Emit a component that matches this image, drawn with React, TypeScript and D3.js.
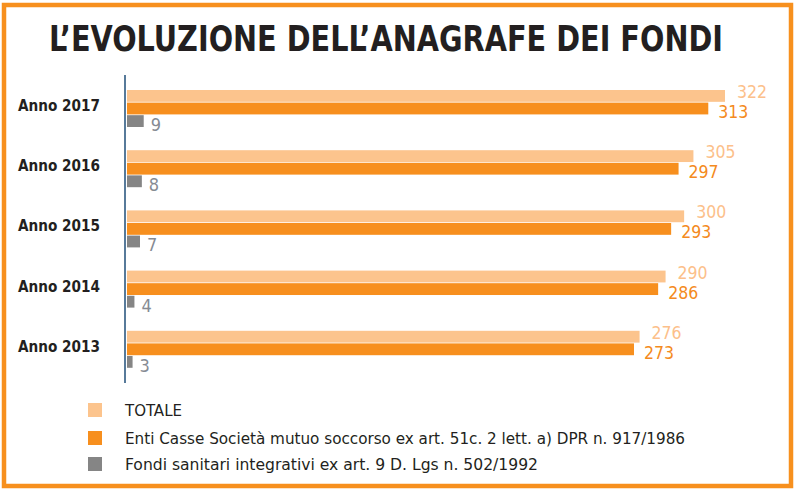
import * as React from "react";
import { scaleLinear, scaleBand } from "d3";

const years = ["Anno 2017", "Anno 2016", "Anno 2015", "Anno 2014", "Anno 2013"];
const totale = [322, 305, 300, 290, 276];
const enti = [313, 297, 293, 286, 273];
const fondi = [9, 8, 7, 4, 3];

const seriesNames = [
  "TOTALE",
  "Enti Casse Società mutuo soccorso ex art. 51c. 2 lett. a) DPR n. 917/1986",
  "Fondi sanitari integrativi ex art. 9 D. Lgs n. 502/1992",
];
const seriesColors = ["#fcc48d", "#f78f1e", "#858585"];
const labelColors = ["#fcc08a", "#f48a20", "#868b93"];
const legendWidths = [57, 560, 413];

const W = 797;
const H = 492;
const FONT = "'Liberation Sans Narrow', 'DejaVu Sans Condensed', 'Open Sans', sans-serif";

const App = () => {
  const x = scaleLinear().domain([0, 322]).range([127, 725]);
  const y = scaleBand<string>().domain(years).range([90, 391]);
  const sub = scaleBand<number>().domain([0, 1, 2]).range([0, 37]).paddingInner(0.06);
  const series = [totale, enti, fondi];
  const labelDx = [12, 10, 7];
  const labelDy = [8, 28, 41];

  return (
    <svg
      width={W}
      height={H}
      style={{ position: "absolute", left: 0, top: 0, background: "#fff" }}
      fontFamily={FONT}
    >
      <rect x={4} y={5} width={787} height={481} fill="none" stroke="#f7901e" strokeWidth={4.5} />
      <text
        transform="translate(49,51) scale(1,1.2)"
        fontSize={30}
        fontWeight="bold"
        fill="#231f20"
        textLength={674}
        lengthAdjust="spacingAndGlyphs"
      >
        L’EVOLUZIONE DELL’ANAGRAFE DEI FONDI
      </text>

      {years.map((yr, i) => {
        const top = y(yr) as number;
        return (
          <g key={yr}>
            <text
              x={18}
              y={top + 21}
              fontSize={16}
              fontWeight="bold"
              fill="#231f20"
              textLength={82}
              lengthAdjust="spacingAndGlyphs"
            >
              {yr}
            </text>
            {series.map((s, k) => (
              <g key={k}>
                <rect
                  x={x(0)}
                  y={top + (sub(k) as number)}
                  width={x(s[i]) - x(0)}
                  height={sub.bandwidth()}
                  fill={seriesColors[k]}
                />
                <text
                  x={x(s[i]) + labelDx[k]}
                  y={top + labelDy[k]}
                  fontSize={k === 2 ? 18 : 17.5}
                  fill={labelColors[k]}
                >
                  {s[i]}
                </text>
              </g>
            ))}
          </g>
        );
      })}

      <line x1={125} x2={125} y1={75} y2={383} stroke="#1f4e79" strokeWidth={1.5} />

      {seriesNames.map((name, k) => {
        const ly = [403, 431, 457][k];
        return (
          <g key={name}>
            <rect x={88} y={ly} width={14} height={14} fill={seriesColors[k]} />
            <text
              x={125}
              y={ly + 13}
              fontSize={16}
              fill="#231f20"
              textLength={legendWidths[k]}
              lengthAdjust="spacingAndGlyphs"
            >
              {name}
            </text>
          </g>
        );
      })}
    </svg>
  );
};

export default App;
